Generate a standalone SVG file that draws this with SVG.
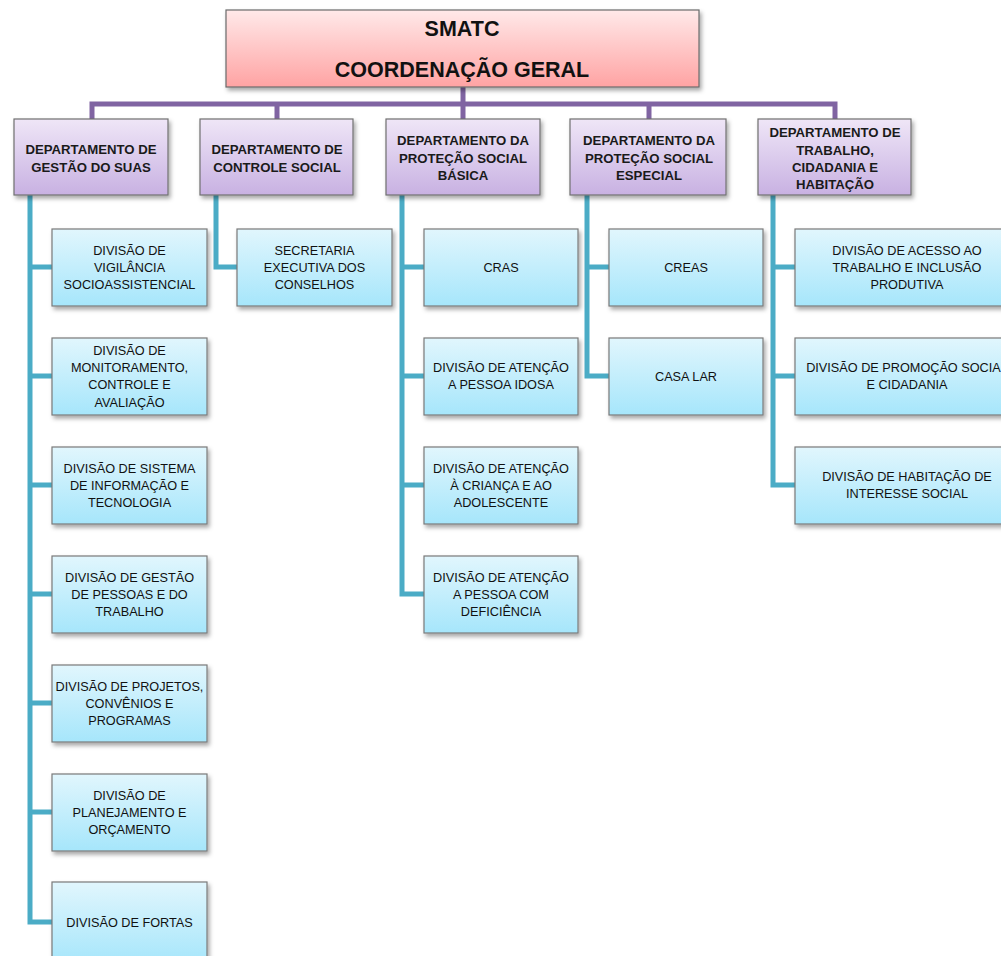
<svg xmlns="http://www.w3.org/2000/svg" width="1001" height="956" viewBox="0 0 1001 956">
<defs>
<linearGradient id="gTop" x1="0" y1="0" x2="0" y2="1"><stop offset="0" stop-color="#ffe9e9"/><stop offset="1" stop-color="#ffa3a3"/></linearGradient>
<linearGradient id="gDept" x1="0" y1="0" x2="0" y2="1"><stop offset="0" stop-color="#efe6f7"/><stop offset="1" stop-color="#c8b1e2"/></linearGradient>
<linearGradient id="gDiv" x1="0" y1="0" x2="0" y2="1"><stop offset="0" stop-color="#e1f6fd"/><stop offset="1" stop-color="#a6e6fb"/></linearGradient>
<filter id="sh" x="-10%" y="-10%" width="130%" height="140%"><feDropShadow dx="2" dy="3" stdDeviation="2" flood-color="#000" flood-opacity="0.35"/></filter>
</defs>
<style>
.top{fill:url(#gTop);stroke:#6b6b6b;stroke-width:1.2;filter:url(#sh)}
.dept{fill:url(#gDept);stroke:#707070;stroke-width:1.2;filter:url(#sh)}
.div{fill:url(#gDiv);stroke:#7a7a7a;stroke-width:1.2;filter:url(#sh)}
.tt{font-family:"Liberation Sans",Arial,sans-serif;font-weight:bold;font-size:21.5px;fill:#111;text-anchor:middle}
.dt{font-family:"Liberation Sans",Arial,sans-serif;font-weight:bold;font-size:13.2px;fill:#1a1a1a;text-anchor:middle}
.vt{font-family:"Liberation Sans",Arial,sans-serif;font-size:12.7px;fill:#111;text-anchor:middle}
.pc{fill:none;stroke:#8064a2;stroke-width:5}
.tc{fill:none;stroke:#4bacc6;stroke-width:5}
</style>
<g id="connectors">
<path class="pc" d="M463 87V104 M92 119V104H835V119 M277 104V119 M463 104V119 M649 104V119"/>
<path class="tc" d="M30 195V922H52 M30 267H52 M30 376H52 M30 485H52 M30 594H52 M30 703H52 M30 812H52"/>
<path class="tc" d="M216 195V267H237"/>
<path class="tc" d="M402 195V594H424 M402 267H424 M402 376H424 M402 485H424"/>
<path class="tc" d="M587 195V376H609 M587 267H609"/>
<path class="tc" d="M773 195V485H795 M773 267H795 M773 376H795"/>
</g>
<g id="top"><rect class="top" x="226" y="10" width="473" height="77"/><text class="tt" x="462" y="36">SMATC</text><text class="tt" x="462" y="77">COORDENAÇÃO GERAL</text></g>
<g id="d1"><rect class="dept" x="14" y="119" width="154" height="76"/><text class="dt" x="91" y="153.5">DEPARTAMENTO DE</text><text class="dt" x="91" y="171.5">GESTÃO DO SUAS</text></g>
<g id="d2"><rect class="dept" x="200" y="119" width="153" height="76"/><text class="dt" x="277" y="153.5">DEPARTAMENTO DE</text><text class="dt" x="277" y="171.5">CONTROLE SOCIAL</text></g>
<g id="d3"><rect class="dept" x="386" y="119" width="154" height="76"/><text class="dt" x="463" y="144.5">DEPARTAMENTO DA</text><text class="dt" x="463" y="162.5">PROTEÇÃO SOCIAL</text><text class="dt" x="463" y="179.5">BÁSICA</text></g>
<g id="d4"><rect class="dept" x="570" y="119" width="156" height="76"/><text class="dt" x="649" y="144.5">DEPARTAMENTO DA</text><text class="dt" x="649" y="162.5">PROTEÇÃO SOCIAL</text><text class="dt" x="649" y="179.5">ESPECIAL</text></g>
<g id="d5"><rect class="dept" x="758" y="119" width="153" height="76"/><text class="dt" x="835" y="136.5">DEPARTAMENTO DE</text><text class="dt" x="835" y="154.5">TRABALHO,</text><text class="dt" x="835" y="171.5">CIDADANIA E</text><text class="dt" x="835" y="188.5">HABITAÇÃO</text></g>
<g id="c1r1"><rect class="div" x="52" y="229" width="155" height="77"/><text class="vt" x="129.5" y="254.5">DIVISÃO DE</text><text class="vt" x="129.5" y="271.5">VIGILÂNCIA</text><text class="vt" x="129.5" y="288.5">SOCIOASSISTENCIAL</text></g>
<g id="c1r2"><rect class="div" x="52" y="338" width="155" height="77"/><text class="vt" x="129.5" y="354.5">DIVISÃO DE</text><text class="vt" x="129.5" y="371.5">MONITORAMENTO,</text><text class="vt" x="129.5" y="389">CONTROLE E</text><text class="vt" x="129.5" y="406.5">AVALIAÇÃO</text></g>
<g id="c1r3"><rect class="div" x="52" y="447" width="155" height="77"/><text class="vt" x="129.5" y="472.5">DIVISÃO DE SISTEMA</text><text class="vt" x="129.5" y="489.5">DE INFORMAÇÃO E</text><text class="vt" x="129.5" y="506.5">TECNOLOGIA</text></g>
<g id="c1r4"><rect class="div" x="52" y="556" width="155" height="77"/><text class="vt" x="129.5" y="581.5">DIVISÃO DE GESTÃO</text><text class="vt" x="129.5" y="598.5">DE PESSOAS E DO</text><text class="vt" x="129.5" y="615.5">TRABALHO</text></g>
<g id="c1r5"><rect class="div" x="52" y="665" width="155" height="77"/><text class="vt" x="129.5" y="690.5">DIVISÃO DE PROJETOS,</text><text class="vt" x="129.5" y="707.5">CONVÊNIOS E</text><text class="vt" x="129.5" y="724.5">PROGRAMAS</text></g>
<g id="c1r6"><rect class="div" x="52" y="774" width="155" height="77"/><text class="vt" x="129.5" y="799.5">DIVISÃO DE</text><text class="vt" x="129.5" y="816.5">PLANEJAMENTO E</text><text class="vt" x="129.5" y="833.5">ORÇAMENTO</text></g>
<g id="c1r7"><rect class="div" x="52" y="882" width="155" height="82"/><text class="vt" x="129.5" y="926.5">DIVISÃO DE FORTAS</text></g>
<g id="c2r1"><rect class="div" x="237" y="229" width="155" height="77"/><text class="vt" x="314.5" y="254.5">SECRETARIA</text><text class="vt" x="314.5" y="271.5">EXECUTIVA DOS</text><text class="vt" x="314.5" y="288.5">CONSELHOS</text></g>
<g id="c3r1"><rect class="div" x="424" y="229" width="154" height="77"/><text class="vt" x="501" y="271.5">CRAS</text></g>
<g id="c3r2"><rect class="div" x="424" y="338" width="154" height="77"/><text class="vt" x="501" y="371.5">DIVISÃO DE ATENÇÃO</text><text class="vt" x="501" y="389">A PESSOA IDOSA</text></g>
<g id="c3r3"><rect class="div" x="424" y="447" width="154" height="77"/><text class="vt" x="501" y="472.5">DIVISÃO DE ATENÇÃO</text><text class="vt" x="501" y="489.5">À CRIANÇA E AO</text><text class="vt" x="501" y="506.5">ADOLESCENTE</text></g>
<g id="c3r4"><rect class="div" x="424" y="556" width="154" height="77"/><text class="vt" x="501" y="581.5">DIVISÃO DE ATENÇÃO</text><text class="vt" x="501" y="598.5">A PESSOA COM</text><text class="vt" x="501" y="615.5">DEFICIÊNCIA</text></g>
<g id="c4r1"><rect class="div" x="609" y="229" width="154" height="77"/><text class="vt" x="686" y="271.5">CREAS</text></g>
<g id="c4r2"><rect class="div" x="609" y="338" width="154" height="77"/><text class="vt" x="686" y="380.5">CASA LAR</text></g>
<g id="c5r1"><rect class="div" x="795" y="229" width="225" height="77"/><text class="vt" x="907" y="254.5">DIVISÃO DE ACESSO AO</text><text class="vt" x="907" y="271.5">TRABALHO E INCLUSÃO</text><text class="vt" x="907" y="288.5">PRODUTIVA</text></g>
<g id="c5r2"><rect class="div" x="795" y="338" width="225" height="77"/><text class="vt" x="907" y="371.5">DIVISÃO DE PROMOÇÃO SOCIAL</text><text class="vt" x="907" y="389">E CIDADANIA</text></g>
<g id="c5r3"><rect class="div" x="795" y="447" width="225" height="77"/><text class="vt" x="907" y="481">DIVISÃO DE HABITAÇÃO DE</text><text class="vt" x="907" y="498">INTERESSE SOCIAL</text></g>
</svg>
